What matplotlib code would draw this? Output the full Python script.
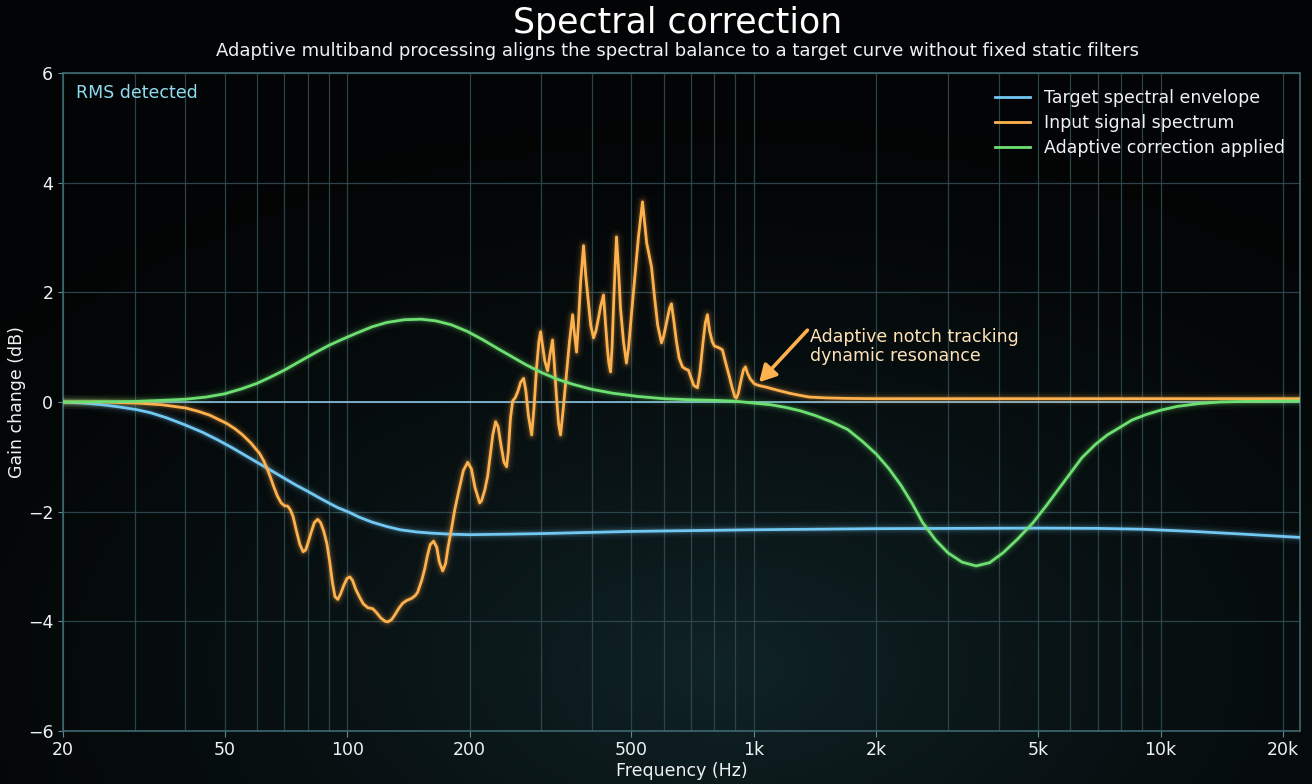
import numpy as np
import matplotlib
matplotlib.use("Agg")
import matplotlib.pyplot as plt
from matplotlib.ticker import FixedLocator, FixedFormatter, NullFormatter, LogLocator

# ---------------- data ----------------
target_f = [20, 22.5, 25, 27.5, 30.4, 33, 36, 40, 44, 48, 52, 56, 60, 65, 70, 75, 80, 85, 90,
            95, 101, 107, 115, 125, 135, 148, 160, 178, 200, 250, 300, 500, 1000, 2000, 5000,
            7000, 9000, 12000, 16000, 22050]
target_db = [0.0, -0.02, -0.05, -0.09, -0.14, -0.2, -0.29, -0.42, -0.55, -0.69, -0.83, -0.97,
             -1.1, -1.25, -1.39, -1.52, -1.63, -1.74, -1.84, -1.93, -2.01, -2.1, -2.19, -2.27,
             -2.33, -2.37, -2.39, -2.41, -2.42, -2.41, -2.4, -2.36, -2.33, -2.31, -2.30,
             -2.305, -2.32, -2.36, -2.41, -2.47]

input_f = [20, 25, 30.4, 35, 40.1, 43, 45.9, 48, 50.5, 53, 55.3, 58, 60.9, 62.3, 63.5, 64.8,
           66.0, 67.4, 68.8, 70, 71.4, 72.5, 73.6, 75, 76.5, 77.9, 79, 80, 81.5, 83, 84.6, 86,
           87.5, 89.1, 90.5, 92, 93.3, 94.8, 96.3, 98, 99.8, 101.5, 103, 105, 107.3, 109.5,
           112.3, 114, 115.5, 118, 121, 124, 125.8, 128.5, 131, 134, 136.9, 140, 144.1, 147,
           149, 152.5, 155, 157.5, 160, 163.1, 166, 168.5, 171.7, 174.5, 177, 180.6, 184, 189,
           193, 197.8, 202, 206, 211.7, 214, 218, 221.5, 225, 228, 231.7, 235, 239, 243, 246.6,
           249, 252, 255.2, 259, 263, 267, 271.5, 275, 279, 284.2, 288, 292, 296, 298.9, 302,
           306, 311, 315, 319.8, 323, 327, 331, 334.7, 340, 346, 352, 358.3, 362, 366.4, 370,
           375, 381.2, 386, 392, 397, 403.4, 409, 414, 420, 426.8, 431, 436, 440, 444.2, 448,
           452, 456, 459.4, 464, 470, 478, 486, 492, 500, 510, 520, 532.2, 545, 560.2, 570,
           580, 592.7, 600, 610, 620, 627, 635, 645, 655, 667.4, 680, 690.4, 700, 712, 726.6,
           737, 750, 760, 768.8, 778, 790, 800, 813.6, 825, 836.8, 850, 870.6, 885, 897, 905.8,
           915, 930, 942, 953, 965, 980, 1003, 1030, 1073, 1136, 1223, 1300, 1369, 1500, 1700,
           2000, 5000, 10000, 22050]
input_db = [0.0, 0.0, -0.02, -0.05, -0.11, -0.17, -0.24, -0.31, -0.39, -0.49, -0.60, -0.75,
            -0.94, -1.07, -1.21, -1.38, -1.55, -1.72, -1.84, -1.89, -1.90, -1.97, -2.09, -2.35,
            -2.6, -2.73, -2.7, -2.58, -2.38, -2.2, -2.14, -2.2, -2.35, -2.58, -2.9, -3.3, -3.55,
            -3.6, -3.5, -3.35, -3.22, -3.19, -3.25, -3.42, -3.56, -3.68, -3.75, -3.76, -3.77,
            -3.84, -3.94, -4.0, -4.01, -3.97, -3.88, -3.76, -3.67, -3.62, -3.58, -3.53, -3.47,
            -3.25, -3.05, -2.8, -2.6, -2.54, -2.65, -2.92, -3.08, -2.95, -2.65, -2.3, -1.95,
            -1.55, -1.25, -1.1, -1.22, -1.55, -1.84, -1.8, -1.6, -1.35, -0.95, -0.6, -0.36,
            -0.45, -0.8, -1.1, -1.18, -0.9, -0.3, 0.02, 0.08, 0.2, 0.36, 0.43, 0.2, -0.25, -0.6,
            -0.1, 0.6, 1.1, 1.28, 1.05, 0.75, 0.57, 0.85, 1.13, 0.7, 0.1, -0.4, -0.6, -0.1, 0.5,
            1.1, 1.59, 1.25, 0.91, 1.4, 2.2, 2.85, 2.3, 1.8, 1.4, 1.17, 1.3, 1.5, 1.75, 1.95,
            1.5, 1.0, 0.7, 0.55, 1.0, 1.8, 2.5, 3.01, 2.5, 1.7, 1.1, 0.71, 1.0, 1.6, 2.3, 3.0,
            3.65, 2.9, 2.46, 1.9, 1.4, 1.08, 1.2, 1.45, 1.7, 1.79, 1.5, 1.1, 0.8, 0.64, 0.6,
            0.58, 0.45, 0.3, 0.26, 0.55, 1.1, 1.45, 1.59, 1.3, 1.1, 1.02, 1.0, 0.98, 0.95, 0.75,
            0.46, 0.25, 0.1, 0.07, 0.15, 0.4, 0.58, 0.64, 0.52, 0.42, 0.33, 0.3, 0.27, 0.22,
            0.16, 0.12, 0.09, 0.075, 0.065, 0.06, 0.06, 0.06, 0.06]

corr_f = [20, 25, 30, 35, 40, 45, 50, 55, 60, 65, 70, 76, 83, 90, 97, 105, 115, 125, 138, 152,
          165, 180, 197, 215, 235, 255, 275, 300, 330, 360, 400, 450, 520, 600, 700, 800, 900,
          1000, 1100, 1200, 1300, 1420, 1550, 1700, 1850, 2000, 2150, 2300, 2450, 2600, 2800,
          3000, 3250, 3520, 3800, 4100, 4450, 4860, 5250, 5600, 6000, 6400, 6900, 7400, 8000,
          8500, 9200, 10000, 11000, 12400, 14000, 16000, 22050]
corr_db = [0.0, 0.005, 0.01, 0.03, 0.05, 0.09, 0.15, 0.24, 0.34, 0.46, 0.58, 0.73, 0.89, 1.03,
           1.14, 1.25, 1.37, 1.45, 1.50, 1.51, 1.48, 1.41, 1.29, 1.14, 0.97, 0.82, 0.68, 0.54,
           0.41, 0.32, 0.23, 0.16, 0.1, 0.06, 0.04, 0.03, 0.015, -0.02, -0.05, -0.1, -0.16,
           -0.25, -0.36, -0.5, -0.72, -0.95, -1.22, -1.52, -1.85, -2.2, -2.52, -2.75, -2.92,
           -2.99, -2.93, -2.75, -2.5, -2.2, -1.88, -1.6, -1.3, -1.02, -0.78, -0.6, -0.45, -0.33,
           -0.23, -0.15, -0.08, -0.03, 0.0, 0.01, 0.02]

xtick_vals = [20, 50, 100, 200, 500, 1000, 2000, 5000, 10000, 20000]
xtick_labels = ["20", "50", "100", "200", "500", "1k", "2k", "5k", "10k", "20k"]
ytick_vals = [-6, -4, -2, 0, 2, 4, 6]

# ---------------- style ----------------
BLUE = "#72c8f2"
ORANGE = "#ffb14e"
GREEN = "#6ee072"
GRID = "#2f4a50"
TXT = "#eef2f4"

fig = plt.figure(figsize=(13.12, 7.84), dpi=100, facecolor="#040606")

# background glow
bg = fig.add_axes([0, 0, 1, 1], zorder=-10)
yy, xx = np.mgrid[0:1:400j, 0:1:700j]
d = np.sqrt(((xx - 0.55) / 0.75) ** 2 + ((yy - 0.15) / 0.75) ** 2)
glow = np.clip(1 - d, 0, 1) ** 1.6
base = np.array([0.012, 0.018, 0.02])
tint = np.array([0.05, 0.12, 0.13])
img = base[None, None, :] + glow[..., None] * tint[None, None, :]
bg.imshow(img, extent=[0, 1, 0, 1], origin="lower", aspect="auto")
bg.set_axis_off()

AX_L, AX_B, AX_W, AX_H = 0.048, 0.0676, 0.943, 0.8393
ax = fig.add_axes([AX_L, AX_B, AX_W, AX_H])
ax.set_facecolor("none")
ax.set_xscale("log")
ax.set_xlim(20, 22050)
ax.set_ylim(-6, 6)

ax.xaxis.set_major_locator(FixedLocator(xtick_vals))
ax.xaxis.set_major_formatter(FixedFormatter(xtick_labels))
ax.xaxis.set_minor_locator(LogLocator(base=10, subs=np.arange(2, 10), numticks=20))
ax.xaxis.set_minor_formatter(NullFormatter())
ax.set_yticks(ytick_vals)
ax.set_yticklabels([f"{v}".replace("-", "\u2212") for v in ytick_vals])

ax.grid(True, which="both", axis="x", color=GRID, lw=0.9, alpha=0.9)
ax.grid(True, which="major", axis="y", color=GRID, lw=0.9, alpha=0.9)
ax.set_axisbelow(True)
for s in ax.spines.values():
    s.set_color("#3d6970")
    s.set_linewidth(1.2)
ax.tick_params(axis="both", which="both", colors="#5d8a90", labelcolor=TXT, labelsize=12.5)
ax.tick_params(axis="x", which="minor", length=0)
ax.tick_params(axis="x", which="major", length=4, pad=3)

# zero reference
ax.axhline(0, color="#8ec6e6", lw=1.3, alpha=0.9, zorder=2)


def glow_line(x, y, color, label):
    for lw, a in [(10, 0.04), (6.5, 0.07), (4, 0.14)]:
        ax.plot(x, y, color=color, lw=lw, alpha=a, solid_capstyle="round",
                solid_joinstyle="round", zorder=3)
    ax.plot(x, y, color=color, lw=2.0, label=label, solid_joinstyle="round", zorder=4)


glow_line(target_f, target_db, BLUE, "Target spectral envelope")
glow_line(input_f, input_db, ORANGE, "Input signal spectrum")
glow_line(corr_f, corr_db, GREEN, "Adaptive correction applied")

leg = ax.legend(loc="upper right", frameon=False, fontsize=12.5, labelcolor=TXT,
                handlelength=2.0, labelspacing=0.42)

ax.text(0.0105, 0.970, "RMS detected", transform=ax.transAxes, color="#8fdcf0",
        fontsize=12.5, va="center", ha="left")

ax.annotate("", xy=(1030, 0.36), xytext=(1354, 1.31),
            arrowprops=dict(arrowstyle="-|>,head_length=1.0,head_width=0.55",
                            color=ORANGE, lw=2.6, shrinkA=0, shrinkB=0), zorder=6)
ax.text(1377, 1.01, "Adaptive notch tracking\ndynamic resonance", color="#ffe3b8",
        fontsize=12.5, ha="left", va="center", linespacing=1.05, zorder=6)

ax.set_xlabel("Frequency (Hz)", color=TXT, fontsize=12.5, labelpad=2)
ax.set_ylabel("Gain change (dB)", color=TXT, fontsize=12.5, labelpad=1)

cx = AX_L + AX_W / 2 - 0.003
fig.text(cx, 0.971, "Spectral correction", color="white", fontsize=25,
         ha="center", va="center")
fig.text(cx, 0.935, "Adaptive multiband processing aligns the spectral balance to a target "
         "curve without fixed static filters", color=TXT, fontsize=13,
         ha="center", va="center")

fig.savefig("out.png", dpi=100, facecolor=fig.get_facecolor())
